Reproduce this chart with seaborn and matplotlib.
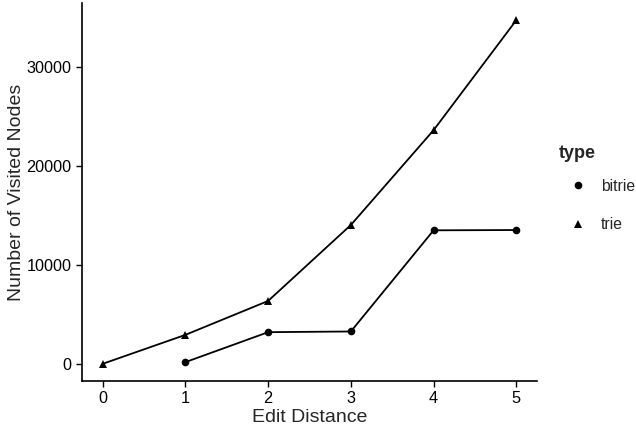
import numpy as np
import pandas as pd
import matplotlib
matplotlib.use("Agg")
import matplotlib.pyplot as plt
from matplotlib.lines import Line2D
import seaborn as sns

# values
trie_dist = [0, 1, 2, 3, 4, 5]
trie_nodes = [0, 2930, 6360, 14040, 23630, 34750]
bitrie_dist = [1, 2, 3, 4, 5]
bitrie_nodes = [170, 3200, 3270, 13500, 13530]
x_ticks = [0, 1, 2, 3, 4, 5]
y_ticks = [0, 10000, 20000, 30000]

df = pd.concat([
    pd.DataFrame({"dist": bitrie_dist, "nodes": bitrie_nodes, "type": "bitrie"}),
    pd.DataFrame({"dist": trie_dist, "nodes": trie_nodes, "type": "trie"}),
])

sns.set_style("ticks")
plt.rcParams["font.family"] = ["Liberation Sans", "DejaVu Sans"]

fig = plt.figure(figsize=(6.36, 4.30), dpi=100)
ax = fig.add_axes([82 / 636, 49 / 430, 455 / 636, 378 / 430])

sns.lineplot(
    data=df, x="dist", y="nodes", style="type",
    markers={"bitrie": "o", "trie": "^"}, dashes=False,
    color="black", linewidth=1.3, markersize=5.5,
    markeredgewidth=0, legend=False, ax=ax,
)

ax.set_xlim(-0.25, 5.25)
ymax = max(trie_nodes)
ax.set_ylim(-0.05 * ymax, 1.05 * ymax)
ax.set_xticks(x_ticks)
ax.set_yticks(y_ticks)
ax.tick_params(labelsize=11.7, colors="black", length=4.5, width=1, pad=3)
ax.set_xlabel("Edit Distance", fontsize=14, labelpad=2)
ax.set_ylabel("Number of Visited Nodes", fontsize=14, labelpad=1)
for side in ["top", "right"]:
    ax.spines[side].set_visible(False)
for side in ["left", "bottom"]:
    ax.spines[side].set_linewidth(1.2)
    ax.spines[side].set_color("black")

handles = [
    Line2D([], [], marker="o", linestyle="none", color="black", markersize=5.5, markeredgewidth=0),
    Line2D([], [], marker="^", linestyle="none", color="black", markersize=5.5, markeredgewidth=0),
]
leg = fig.legend(
    handles, ["bitrie", "trie"], title="type",
    loc="upper left", bbox_to_anchor=(548 / 636, 1 - 134 / 430),
    frameon=False, fontsize=11.3, title_fontproperties={"weight": "bold", "size": 13},
    handlelength=2.4, handletextpad=0.25, labelspacing=1.5, alignment="left",
    borderaxespad=0.3,
)
leg._legend_box.sep = 12

fig.savefig("out.png", dpi=100)
